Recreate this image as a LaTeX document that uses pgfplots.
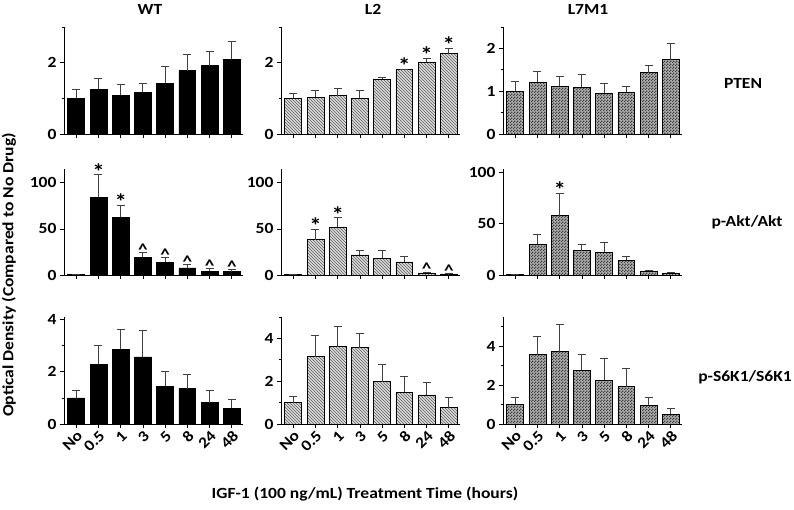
\documentclass[border=0pt]{standalone}
\usepackage{pgfplots}
\pgfplotsset{compat=1.18}
\usepackage{fontspec}
\setmainfont{Carlito}[FakeStretch=1.13]
\usetikzlibrary{patterns}

\definecolor{chkdark}{gray}{0.25}
\definecolor{chklight}{gray}{0.68}
\definecolor{hatchbg}{gray}{0.86}
\definecolor{hatchln}{gray}{0.38}

\pgfdeclarepatternformonly{finecheck}{\pgfqpoint{0pt}{0pt}}{\pgfqpoint{2.6pt}{2.6pt}}{\pgfqpoint{2.6pt}{2.6pt}}{%
  \pgfpathrectangle{\pgfqpoint{0pt}{0pt}}{\pgfqpoint{1.3pt}{1.3pt}}%
  \pgfpathrectangle{\pgfqpoint{1.3pt}{1.3pt}}{\pgfqpoint{1.3pt}{1.3pt}}%
  \pgfusepath{fill}}

\newcommand{\lbl}{\fontsize{15.5}{18}\selectfont\bfseries}
\newcommand{\starfont}{\fontsize{22}{22}\selectfont\bfseries}
\newcommand{\carfont}{\fontsize{17}{17}\selectfont\bfseries}

\tikzset{
  star/.style={font=\starfont, anchor=base, inner sep=0pt, yshift=-4.5pt},
  caret/.style={font=\carfont, anchor=base, inner sep=0pt, yshift=-3pt},
}

\pgfplotsset{
  panel/.style={
    scale only axis, width=179pt, height=107pt, anchor=south west,
    axis lines=left, axis line style={-, line width=0.8pt},
    xmin=-0.55, xmax=7.5, ymin=0,
    xtick={0,...,7}, xticklabels={},
    tick style={black, line width=0.8pt}, tick align=outside,
    major tick length=4pt, minor tick length=2.5pt,
    ticklabel style={font=\lbl},
    /pgf/number format/assume math mode=true,
    ybar, bar width=0.76, bar shift=0pt,
    clip=false,
  },
  bottomrow/.style={
    xticklabels={No,0.5,1,3,5,8,24,48},
    x tick label style={rotate=45, anchor=north east, inner sep=1pt},
  },
  wt/.style={fill=black, draw=black, line width=0.8pt,
    error bars/.cd, y dir=plus, y explicit,
    error bar style={black!75, line width=0.9pt},
    error mark options={rotate=90, mark size=4pt, line width=0.9pt, black!75}},
  ltwo/.style={fill=hatchbg, draw=black, line width=0.8pt,
    postaction={pattern=north west lines, pattern color=hatchln},
    error bars/.cd, y dir=plus, y explicit,
    error bar style={black!75, line width=0.9pt},
    error mark options={rotate=90, mark size=4pt, line width=0.9pt, black!75}},
  lsev/.style={fill=chklight, draw=black, line width=0.8pt,
    postaction={pattern=finecheck, pattern color=chkdark},
    error bars/.cd, y dir=plus, y explicit,
    error bar style={black!75, line width=0.9pt},
    error mark options={rotate=90, mark size=4pt, line width=0.9pt, black!75}},
}

\pgfplotstableread{
x y e
0 1.00 0.25
1 1.25 0.30
2 1.09 0.29
3 1.17 0.24
4 1.42 0.47
5 1.77 0.46
6 1.91 0.40
7 2.09 0.50
}\wtpten
\pgfplotstableread{
x y e
0 1.00 0.13
1 1.03 0.19
2 1.07 0.22
3 1.00 0.22
4 1.53 0.05
5 1.81 0.01
6 2.01 0.11
7 2.25 0.15
}\ltwopten
\pgfplotstableread{
x y e
0 1.00 0.23
1 1.21 0.26
2 1.11 0.24
3 1.09 0.31
4 0.95 0.24
5 0.98 0.14
6 1.43 0.17
7 1.74 0.38
}\lsevpten
\pgfplotstableread{
x y e
0 1.0 0
1 84.4 24.3
2 62.7 13.0
3 19.2 5.4
4 13.8 5.0
5 7.6 4.0
6 4.3 2.6
7 3.6 2.2
}\wtakt
\pgfplotstableread{
x y e
0 0.8 0
1 38.5 11.3
2 52.0 10.2
3 21.8 4.4
4 18.2 8.7
5 14.2 5.4
6 2.2 1.1
7 1.1 0.4
}\ltwoakt
\pgfplotstableread{
x y e
0 0.8 0
1 29.7 9.5
2 57.5 21.9
3 23.5 6.6
4 22.2 9.2
5 14.4 3.6
6 3.6 1.3
7 2.0 0.5
}\lsevakt
\pgfplotstableread{
x y e
0 1.00 0.28
1 2.29 0.71
2 2.87 0.77
3 2.57 1.01
4 1.45 0.57
5 1.36 0.53
6 0.81 0.46
7 0.61 0.33
}\wtsk
\pgfplotstableread{
x y e
0 0.99 0.30
1 3.15 0.99
2 3.62 0.96
3 3.56 0.69
4 1.98 0.80
5 1.49 0.71
6 1.36 0.59
7 0.77 0.45
}\ltwosk
\pgfplotstableread{
x y e
0 1.01 0.38
1 3.57 0.95
2 3.72 1.40
3 2.77 0.80
4 2.26 1.10
5 1.92 0.96
6 0.96 0.43
7 0.50 0.28
}\lsevsk

\begin{document}
\begin{tikzpicture}[x=1pt,y=1pt]
\useasboundingbox (0,0) rectangle (794,509);

% ---------- Row 1: PTEN ----------
\begin{axis}[panel, at={(64pt,375pt)}, ymax=3, ytick={0,2}, minor ytick={1,3}]
\addplot[wt] table[x=x,y=y,y error=e]{\wtpten};
\end{axis}
\begin{axis}[panel, at={(281pt,375pt)}, ymax=3, ytick={0,2}, minor ytick={1,3}]
\addplot[ltwo] table[x=x,y=y,y error=e]{\ltwopten};
\node[star] at (axis cs:5,1.82) {*};
\node[star] at (axis cs:6,2.12) {*};
\node[star] at (axis cs:7,2.40) {*};
\end{axis}
\begin{axis}[panel, at={(503pt,375pt)}, ymax=2.5, ytick={0,1,2}, minor ytick={0.5,1.5,2.5}]
\addplot[lsev] table[x=x,y=y,y error=e]{\lsevpten};
\end{axis}

% ---------- Row 2: p-Akt/Akt ----------
\begin{axis}[panel, at={(64pt,234pt)}, height=106pt, ymax=115, ytick={0,50,100}]
\addplot[wt] table[x=x,y=y,y error=e]{\wtakt};
\node[star] at (axis cs:1,108.7) {*};
\node[star] at (axis cs:2,75.7) {*};
\node[caret] at (axis cs:3,24.6) {\^{}};
\node[caret] at (axis cs:4,18.8) {\^{}};
\node[caret] at (axis cs:5,11.6) {\^{}};
\node[caret] at (axis cs:6,6.9) {\^{}};
\node[caret] at (axis cs:7,5.8) {\^{}};
\end{axis}
\begin{axis}[panel, at={(281pt,234pt)}, height=106pt, ymax=115, ytick={0,50,100}]
\addplot[ltwo] table[x=x,y=y,y error=e]{\ltwoakt};
\node[star] at (axis cs:1,49.8) {*};
\node[star] at (axis cs:2,62.2) {*};
\node[caret] at (axis cs:6,3.3) {\^{}};
\node[caret] at (axis cs:7,1.5) {\^{}};
\end{axis}
\begin{axis}[panel, at={(503pt,234pt)}, height=106pt, ymax=103, ytick={0,50,100}]
\addplot[lsev] table[x=x,y=y,y error=e]{\lsevakt};
\node[star] at (axis cs:2,79.4) {*};
\end{axis}

% ---------- Row 3: p-S6K1/S6K1 ----------
\begin{axis}[panel, bottomrow, at={(64pt,85pt)}, ymax=4.1, ytick={0,2,4}, minor ytick={1,3}]
\addplot[wt] table[x=x,y=y,y error=e]{\wtsk};
\end{axis}
\begin{axis}[panel, bottomrow, at={(281pt,85pt)}, ymax=5, ytick={0,2,4}, minor ytick={1,3,5}]
\addplot[ltwo] table[x=x,y=y,y error=e]{\ltwosk};
\end{axis}
\begin{axis}[panel, bottomrow, at={(503pt,85pt)}, ymax=5.5, ytick={0,2,4}, minor ytick={1,3,5}]
\addplot[lsev] table[x=x,y=y,y error=e]{\lsevsk};
\end{axis}

% ---------- Labels ----------
\node[font=\lbl] at (150,500) {WT};
\node[font=\lbl] at (373,500) {L2};
\node[font=\lbl] at (588,500) {L7M1};
\node[font=\lbl] at (743,426) {PTEN};
\node[font=\lbl] at (747,287) {p-Akt/Akt};
\node[font=\lbl] at (745,132) {p-S6K1/S6K1};
\node[font=\lbl, rotate=90] at (9,234) {Optical Density (Compared to No Drug)};
\node[font=\lbl] at (365,15) {IGF-1 (100 ng/mL) Treatment Time (hours)};
\end{tikzpicture}
\end{document}
